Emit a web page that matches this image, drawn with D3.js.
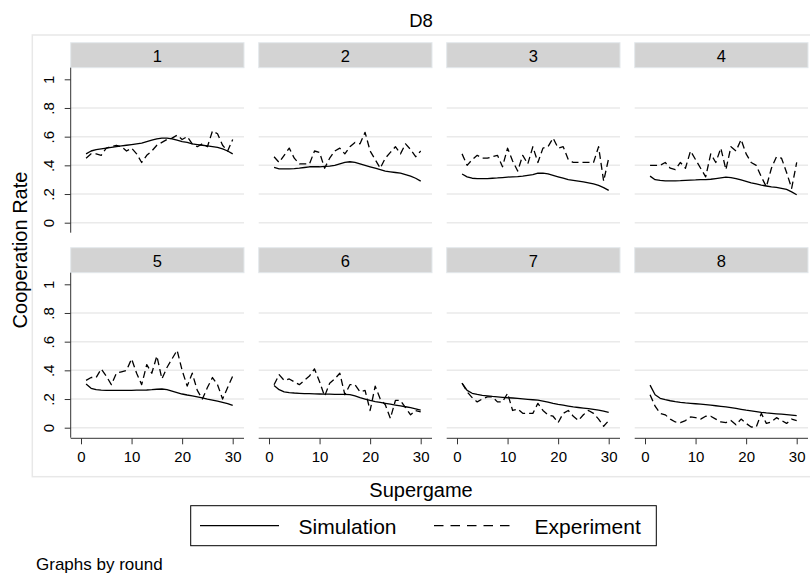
<!DOCTYPE html>
<html><head><meta charset="utf-8">
<script src="https://cdn.jsdelivr.net/npm/d3@7"></script>
<style>
body{margin:0;background:#fff}
svg{display:block;font-family:"Liberation Sans",Arial,Helvetica,sans-serif}
</style>
</head><body>
<svg id="chart" width="810" height="579"></svg>
<script>
// ---------------- data ----------------
const chartTitle = "D8";
const rounds = ["1","2","3","4","5","6","7","8"];
const supergames = [1,2,3,4,5,6,7,8,9,10,11,12,13,14,15,16,17,18,19,20,21,22,23,24,25,26,27,28,29,30];
const xTicks = [0,10,20,30];
const yTicks = [0,0.2,0.4,0.6,0.8,1];
const yTickLabels = ["0",".2",".4",".6",".8","1"];
const gridValues = [0,0.2,0.4,0.6,0.8];
const seriesNames = ["Simulation","Experiment"];

const simRound1 = [.48,.50,.51,.515,.52,.525,.53,.535,.54,.545,.55,.555,.565,.575,.585,.59,.59,.585,.575,.565,.56,.55,.545,.54,.535,.53,.525,.515,.50,.48];
const expRound1 = [.45,.48,.48,.47,.52,.53,.54,.53,.50,.52,.48,.42,.47,.50,.54,.56,.58,.59,.61,.58,.60,.55,.53,.55,.53,.64,.62,.54,.50,.58];
const simRound2 = [.385,.375,.375,.375,.377,.38,.385,.39,.39,.39,.393,.395,.40,.41,.42,.425,.42,.41,.40,.39,.38,.37,.36,.355,.35,.345,.335,.325,.31,.29];
const expRound2 = [.46,.42,.47,.52,.45,.41,.41,.41,.50,.49,.38,.45,.50,.52,.48,.53,.56,.55,.63,.50,.44,.38,.45,.49,.53,.48,.55,.51,.46,.50];
const simRound3 = [.34,.32,.31,.308,.308,.308,.31,.312,.315,.318,.32,.322,.325,.33,.335,.345,.345,.34,.33,.32,.31,.30,.295,.29,.285,.278,.27,.26,.245,.225];
const expRound3 = [.48,.40,.44,.47,.45,.45,.46,.47,.39,.52,.43,.36,.47,.41,.53,.42,.52,.53,.59,.52,.53,.44,.42,.42,.42,.42,.42,.53,.29,.45];
const simRound4 = [.325,.30,.295,.292,.292,.292,.293,.295,.297,.298,.30,.30,.303,.308,.313,.318,.315,.308,.298,.288,.278,.27,.262,.256,.25,.246,.24,.232,.215,.195];
const expRound4 = [.40,.40,.40,.42,.38,.37,.42,.38,.50,.44,.38,.32,.48,.42,.52,.37,.53,.50,.58,.48,.42,.40,.32,.25,.38,.46,.45,.35,.24,.42];
const simRound5 = [.305,.275,.265,.262,.26,.26,.26,.26,.26,.26,.262,.262,.263,.265,.268,.27,.265,.255,.245,.235,.228,.222,.215,.208,.20,.193,.185,.177,.168,.155];
const expRound5 = [.33,.35,.35,.41,.36,.30,.38,.39,.40,.48,.38,.30,.44,.38,.50,.34,.42,.48,.54,.40,.29,.38,.26,.20,.28,.35,.30,.20,.28,.36];
const simRound6 = [.295,.265,.25,.245,.242,.24,.238,.237,.236,.235,.234,.234,.233,.233,.232,.23,.222,.21,.20,.19,.182,.176,.17,.164,.158,.152,.146,.14,.132,.123];
const expRound6 = [.30,.37,.33,.34,.32,.30,.33,.36,.41,.32,.22,.31,.34,.38,.23,.30,.30,.25,.26,.12,.29,.20,.16,.065,.19,.19,.14,.09,.12,.11];
const simRound7 = [.31,.26,.24,.232,.225,.222,.218,.215,.212,.209,.207,.204,.201,.198,.195,.192,.186,.178,.17,.163,.157,.151,.145,.141,.137,.133,.128,.122,.115,.107];
const expRound7 = [.31,.25,.21,.18,.20,.215,.215,.18,.18,.24,.12,.13,.10,.10,.10,.17,.12,.09,.08,.035,.10,.12,.08,.05,.09,.12,.10,.06,.01,.05];
const simRound8 = [.297,.23,.205,.195,.188,.182,.177,.173,.17,.167,.164,.161,.157,.153,.149,.145,.14,.134,.128,.122,.117,.112,.107,.103,.10,.097,.094,.091,.088,.084];
const expRound8 = [.23,.15,.10,.09,.06,.04,.035,.05,.075,.07,.06,.08,.08,.06,.04,.035,.05,.02,.06,.03,.005,.005,.10,.03,.04,.07,.05,.03,.06,.05];

const simSeries = [simRound1,simRound2,simRound3,simRound4,simRound5,simRound6,simRound7,simRound8];
const expSeries = [expRound1,expRound2,expRound3,expRound4,expRound5,expRound6,expRound7,expRound8];

// ---------------- layout ----------------
const svg = d3.select("#chart");
const dashPattern = "7,4";
const panelLeft0 = 70.7, panelW = 173.3, panelStepX = 188;
const panelTop0 = 42.7, panelStepY = 205, headerH = 25, panelH = 190;
const tickFont = 15;

// outer light frame
svg.append("rect").attr("x",32.3).attr("y",35).attr("width",800).attr("height",441.7)
  .attr("fill","#fff").attr("stroke","#e8e8e8").attr("stroke-width",1.5);

// title
svg.append("text").attr("x",421).attr("y",20).attr("text-anchor","middle")
  .attr("dominant-baseline","central").attr("font-size",18.5).text(chartTitle);

rounds.forEach((r,i)=>{
  const col = i%4, row = Math.floor(i/4);
  const left = panelLeft0 + col*panelStepX, right = left + panelW;
  const top = panelTop0 + row*panelStepY;
  const plotTop = top + headerH, plotBottom = top + panelH;
  const x = d3.scaleLinear().domain([0,30]).range([left+10.3, left+162]);
  const y = d3.scaleLinear().domain([0,1]).range([top+180, top+36.6]);
  const g = svg.append("g");

  // gridlines
  g.selectAll("line.grid").data(gridValues).join("line")
    .attr("x1",left).attr("x2",right).attr("y1",d=>y(d)).attr("y2",d=>y(d))
    .attr("stroke","#eaeaea").attr("stroke-width",1.5);

  // header strip
  g.append("rect").attr("x",left).attr("y",top).attr("width",panelW).attr("height",headerH)
    .attr("fill","#d3d3d3").attr("stroke","#e3e8eb").attr("stroke-width",1);
  g.append("text").attr("x",left+panelW/2).attr("y",top+headerH/2+1)
    .attr("text-anchor","middle").attr("dominant-baseline","central")
    .attr("font-size",16.5).text(r);

  // series
  const line = d3.line().x((d,k)=>x(supergames[k])).y(d=>y(d));
  g.append("path").datum(simSeries[i]).attr("d",line).attr("fill","none")
    .attr("stroke","#000").attr("stroke-width",1.3).attr("stroke-linejoin","round");
  g.append("path").datum(expSeries[i]).attr("d",line).attr("fill","none")
    .attr("stroke","#000").attr("stroke-width",1.3).attr("stroke-dasharray",dashPattern)
    .attr("stroke-linejoin","round");

  // y axis on first column
  if(col===0){
    const ya = g.append("g").attr("transform",`translate(${left},0)`)
      .call(d3.axisLeft(y).tickValues(yTicks).tickSize(6).tickFormat((d,k)=>yTickLabels[k]));
    ya.select(".domain").remove();
    ya.selectAll(".tick line").attr("stroke","#333");
    ya.selectAll(".tick text").attr("transform","rotate(-90)")
      .attr("text-anchor","middle").attr("x",0).attr("y",-22).attr("dy","0.35em")
      .attr("font-size",tickFont).attr("font-family","Liberation Sans, Arial, sans-serif").attr("fill","#000");
    g.append("line").attr("x1",left).attr("x2",left).attr("y1",plotTop).attr("y2",plotBottom)
      .attr("stroke","#333").attr("stroke-width",1);
  }
  // x axis on bottom row
  if(row===1){
    const xa = g.append("g").attr("transform",`translate(0,${plotBottom+0.6})`)
      .call(d3.axisBottom(x).tickValues(xTicks).tickSize(6));
    xa.select(".domain").remove();
    xa.selectAll(".tick line").attr("stroke","#333");
    xa.selectAll(".tick text").attr("y",18).attr("dy","0.35em")
      .attr("font-size",tickFont).attr("font-family","Liberation Sans, Arial, sans-serif").attr("fill","#000");
    g.append("line").attr("x1",left).attr("x2",right).attr("y1",plotBottom+0.6).attr("y2",plotBottom+0.6)
      .attr("stroke","#333").attr("stroke-width",1);
  }
});

// axis titles
svg.append("text").attr("transform","translate(20,250) rotate(-90)")
  .attr("text-anchor","middle").attr("dominant-baseline","central")
  .attr("font-size",20).text("Cooperation Rate");
svg.append("text").attr("x",421).attr("y",490).attr("text-anchor","middle")
  .attr("dominant-baseline","central").attr("font-size",20).text("Supergame");

// legend
const lg = svg.append("g");
lg.append("rect").attr("x",190.7).attr("y",505.7).attr("width",465.6).attr("height",40)
  .attr("fill","#fff").attr("stroke","#000").attr("stroke-width",1);
lg.append("line").attr("x1",200).attr("x2",279).attr("y1",525.7).attr("y2",525.7)
  .attr("stroke","#000").attr("stroke-width",1.3);
lg.append("text").attr("x",298.5).attr("y",526).attr("dominant-baseline","central")
  .attr("font-size",21).text(seriesNames[0]);
lg.append("line").attr("x1",434).attr("x2",514).attr("y1",525.7).attr("y2",525.7)
  .attr("stroke","#000").attr("stroke-width",1.3).attr("stroke-dasharray","9.5,7");
lg.append("text").attr("x",534.6).attr("y",526).attr("dominant-baseline","central")
  .attr("font-size",21).text(seriesNames[1]);

// note
svg.append("text").attr("x",36).attr("y",564).attr("dominant-baseline","central")
  .attr("font-size",17).text("Graphs by round");
</script>
</body></html>
